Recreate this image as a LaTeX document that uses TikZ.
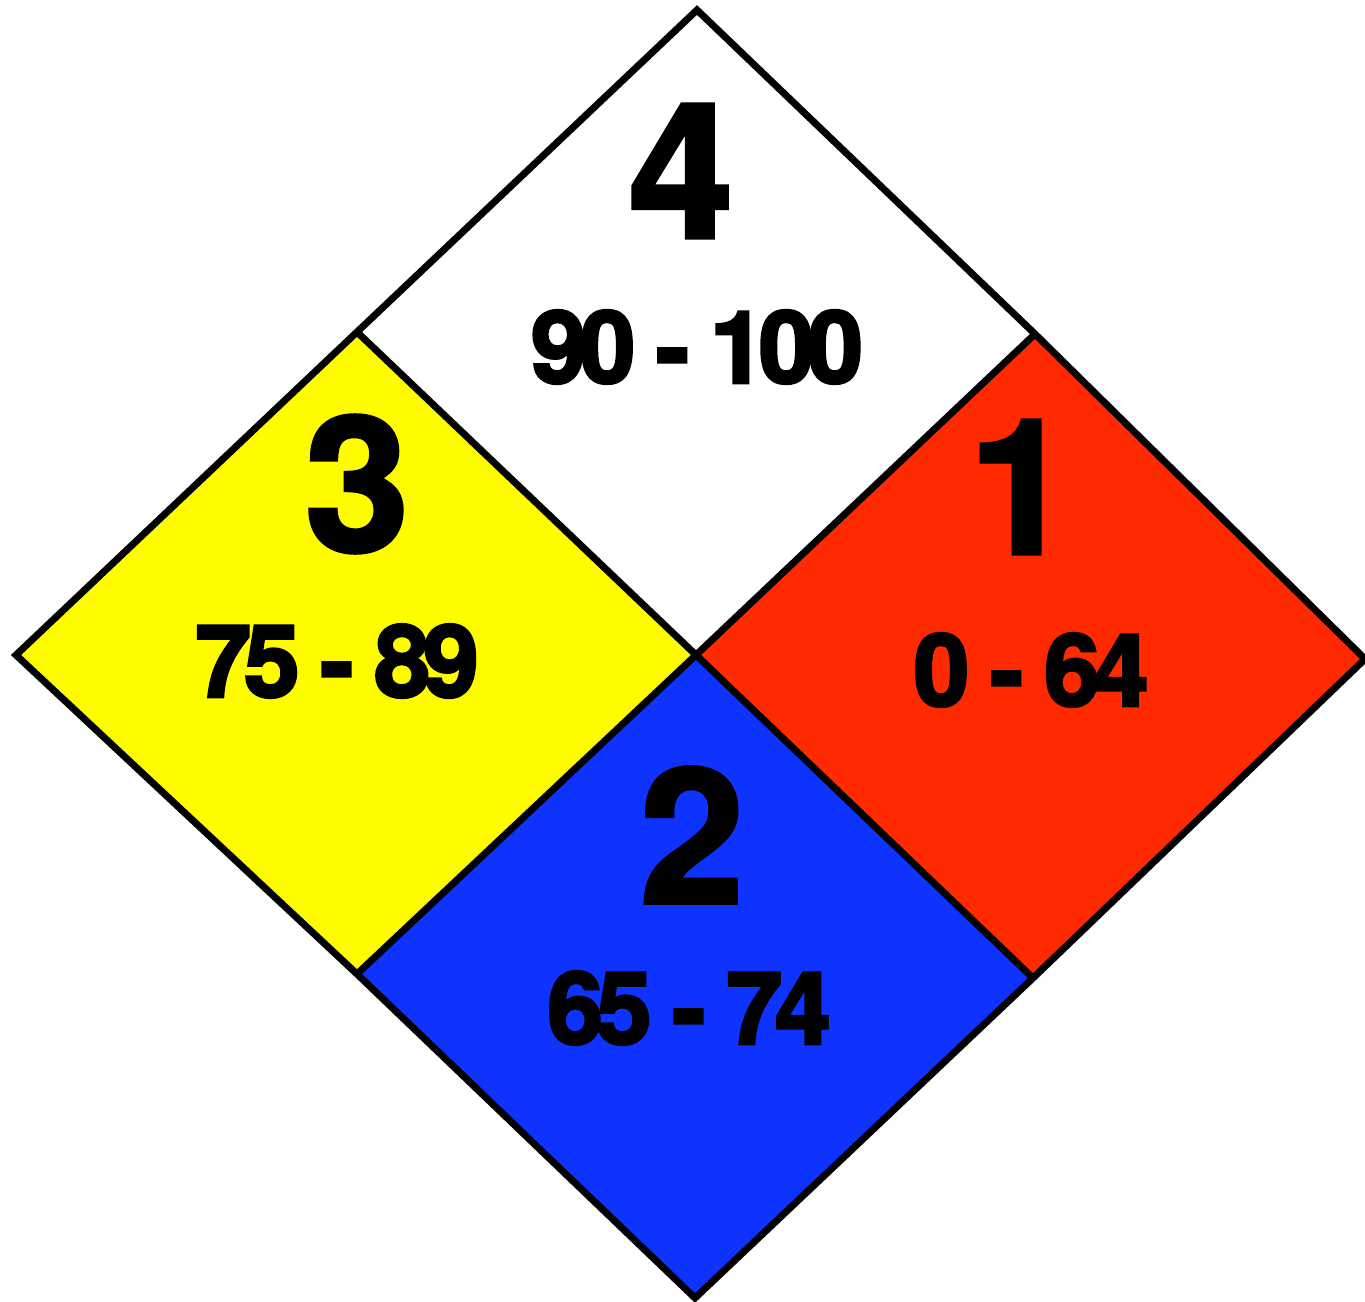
\documentclass[tikz,border=0pt]{standalone}
\usepackage{fontspec}
\newfontfamily\heavy[FakeBold=3,LetterSpace=-7]{texgyreheros-bold.otf}
\newfontfamily\heavybig[FakeBold=2]{texgyreheros-bold.otf}
\definecolor{nfyellow}{HTML}{FFFC00}
\definecolor{nfred}{HTML}{FF2A00}
\definecolor{nfblue}{HTML}{0F33FF}
\tikzset{
  panel/.style={draw=black, line width=3.5pt, line join=miter},
  bignum/.style={inner sep=0pt, font=\heavybig\fontsize{94}{94}\selectfont},
  rangetext/.style={inner sep=0pt, font=\heavy\fontsize{50}{50}\selectfont}
}
\begin{document}
\begin{tikzpicture}[x=0.5pt,y=-0.5pt]
\useasboundingbox (0,0) rectangle (1365,1301);
% vertices
\coordinate (wt) at (697,10);
\coordinate (wl) at (357,332);
\coordinate (wr) at (1035,334);
\coordinate (c) at (696,655);
\coordinate (yl) at (16,655);
\coordinate (yb) at (357,974);
\coordinate (rr) at (1365,659);
\coordinate (rb) at (1033,978);
\coordinate (bb) at (695,1298);
% panels
\fill[white] (wt) -- (wr) -- (c) -- (wl) -- cycle;
\fill[nfyellow] (wl) -- (c) -- (yb) -- (yl) -- cycle;
\fill[nfred] (wr) -- (rr) -- (rb) -- (c) -- cycle;
\fill[nfblue] (c) -- (rb) -- (bb) -- (yb) -- cycle;
\draw[panel] (wt) -- (wr) -- (rr) -- (rb) -- (bb) -- (yb) -- (yl) -- (wl) -- cycle;
\draw[panel] (wl) -- (c) -- (rb);
\draw[panel] (wr) -- (c) -- (yb);
% labels
\node[bignum] (n4) at (681,171) {4};
\node[rangetext] (r4) at (697,347) {90 - 100};
\node[bignum] (n3) at (357,484) {3};
\node[rangetext] (r3) at (337,661) {75 - 89};
\node[bignum] (n1) at (1021,487) {1};
\node[rangetext] (r1) at (1031,670) {0 - 64};
\node[bignum] (n2) at (692,835) {2};
\node[rangetext] (r2) at (689,1008) {65 - 74};
\end{tikzpicture}
\end{document}
